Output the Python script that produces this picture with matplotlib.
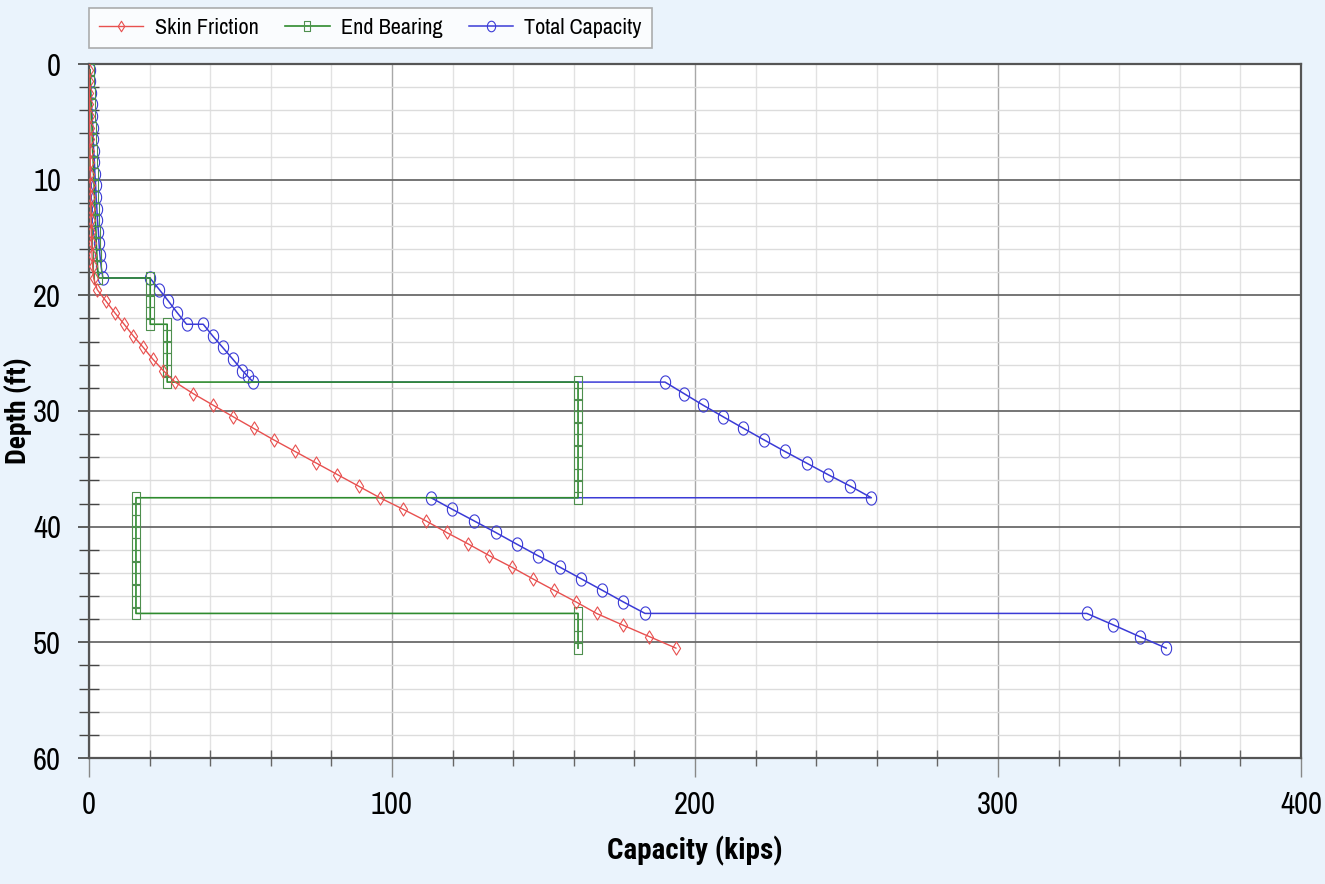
import numpy as np
import matplotlib
matplotlib.use("Agg")
import matplotlib.pyplot as plt
from matplotlib.path import Path
from matplotlib.ticker import MultipleLocator

# ---------------- data ----------------
skin_depth = [0.5, 1.5, 2.5, 3.5, 4.5, 5.5, 6.5, 7.5, 8.5, 9.5, 10.5, 11.5, 12.5, 13.5,
              14.5, 15.5, 16.5, 17.5, 18.5, 19.5, 20.5, 21.5, 22.5, 23.5, 24.5, 25.5,
              26.5, 27.5, 28.5, 29.5, 30.5, 31.5, 32.5, 33.5, 34.5, 35.5, 36.5, 37.5,
              38.5, 39.5, 40.5, 41.5, 42.5, 43.5, 44.5, 45.5, 46.5, 47.5, 48.5, 49.5, 50.5]
skin_cap = [0.0, 0.05, 0.1, 0.15, 0.2, 0.25, 0.3, 0.35, 0.4, 0.45, 0.5, 0.55, 0.6, 0.7,
            0.8, 0.9, 1.0, 1.2, 1.5, 2.7, 5.6, 8.5, 11.6, 14.6, 17.9, 21.0,
            24.5, 28.4, 34.4, 41.0, 47.6, 54.3, 61.0, 68.0, 75.0, 82.0, 89.0, 96.0,
            103.7, 111.2, 118.0, 125.2, 132.1, 139.5, 146.4, 153.5, 160.7, 167.5, 176.1, 184.9, 193.7]

end_depth = [0.5, 1.5, 2.5, 3.5, 4.5, 5.5, 6.5, 7.5, 8.5, 9.5, 10.5, 11.5, 12.5, 13.5,
             14.5, 15.5, 16.5, 17.5, 18.5,
             18.5, 19.5, 20.5, 21.5, 22.5,
             22.5, 23.5, 24.5, 25.5, 26.5, 27.5,
             27.5, 28.5, 29.5, 30.5, 31.5, 32.5, 33.5, 34.5, 35.5, 36.5, 37.5,
             37.5, 38.5, 39.5, 40.5, 41.5, 42.5, 43.5, 44.5, 45.5, 46.5, 47.5,
             47.5, 48.5, 49.5, 50.5]
end_cap = [0.3, 0.4, 0.5, 0.7, 0.8, 1.0, 1.1, 1.2, 1.4, 1.5, 1.7, 1.8, 2.0, 2.1,
           2.3, 2.4, 2.6, 2.8, 3.1,
           20.2, 20.2, 20.2, 20.2, 20.2,
           25.8, 25.8, 25.8, 25.8, 25.8, 25.8,
           161.4, 161.4, 161.4, 161.4, 161.4, 161.4, 161.4, 161.4, 161.4, 161.4, 161.4,
           15.5, 15.5, 15.5, 15.5, 15.5, 15.5, 15.5, 15.5, 15.5, 15.5, 15.5,
           161.4, 161.4, 161.4, 161.4]

total_depth = [0.5, 1.5, 2.5, 3.5, 4.5, 5.5, 6.5, 7.5, 8.5, 9.5, 10.5, 11.5, 12.5, 13.5,
               14.5, 15.5, 16.5, 17.5, 18.5,
               18.5, 19.5, 20.5, 21.5, 22.5,
               22.5, 23.5, 24.5, 25.5, 26.5, 27.0, 27.5,
               27.5, 28.5, 29.5, 30.5, 31.5, 32.5, 33.5, 34.5, 35.5, 36.5, 37.5,
               37.5, 38.5, 39.5, 40.5, 41.5, 42.5, 43.5, 44.5, 45.5, 46.5, 47.5,
               47.5, 48.5, 49.5, 50.5]
total_cap = [0.3, 0.45, 0.6, 0.85, 1.0, 1.25, 1.4, 1.55, 1.8, 1.95, 2.2, 2.35, 2.6, 2.8,
             3.1, 3.3, 3.6, 4.0, 4.6,
             20.1, 23.2, 26.2, 29.1, 32.2,
             37.7, 40.8, 44.1, 47.4, 50.6, 52.4, 54.2,
             190.1, 196.4, 202.7, 209.3, 216.0, 222.8, 229.7, 236.8, 243.9, 251.3, 258.2,
             112.9, 119.9, 127.1, 134.2, 141.1, 148.1, 155.4, 162.4, 169.4, 176.3, 183.5,
             329.3, 338.1, 346.7, 355.5]

x_ticks = [0, 100, 200, 300, 400]
y_ticks = [0, 10, 20, 30, 40, 50, 60]

# ---------------- style ----------------
narrow = ['Liberation Sans Narrow', 'Archivo Narrow', 'Roboto Condensed', 'DejaVu Sans']
bold_narrow = ['Liberation Sans Narrow', 'Roboto Condensed', 'Barlow Semi Condensed', 'DejaVu Sans']
plt.rcParams['font.family'] = narrow

BG = '#EAF3FC'
RED = '#E8504F'
GREEN = '#2E8B2E'
BLUE = '#3B3BD6'

# tall (vertically elongated) marker shapes
diamond = Path([(0, 1), (0.62, 0), (0, -1), (-0.62, 0), (0, 1)],
               [Path.MOVETO, Path.LINETO, Path.LINETO, Path.LINETO, Path.CLOSEPOLY])
sq = Path([(-0.6, -1), (0.6, -1), (0.6, 1), (-0.6, 1), (-0.6, -1)],
          [Path.MOVETO, Path.LINETO, Path.LINETO, Path.LINETO, Path.CLOSEPOLY])
t = np.linspace(0, 2 * np.pi, 40)
ell = Path(np.column_stack([0.78 * np.cos(t), np.sin(t)]))

fig = plt.figure(figsize=(13.25, 8.84), dpi=100, facecolor=BG)
ax = fig.add_axes([89 / 1325, 1 - 758 / 884, (1301 - 89) / 1325, (758 - 64) / 884])
ax.set_facecolor('white')

l3, = ax.plot(total_cap, total_depth, color=BLUE, lw=1.1, marker=ell, ms=9.5,
              mfc='none', mec=BLUE, mew=0.8, zorder=3, label='Total Capacity')
l2, = ax.plot(end_cap, end_depth, color=GREEN, lw=1.2, marker=sq, ms=9,
              mfc='none', mec='#4E8F4E', mew=0.8, zorder=4, label='End Bearing')
l1, = ax.plot(skin_cap, skin_depth, color=RED, lw=1.0, marker=diamond, ms=9.5,
              mfc='none', mec=RED, mew=0.8, zorder=5, label='Skin Friction')

ax.set_xlim(0, 400)
ax.set_ylim(60, 0)
ax.set_xticks(x_ticks)
ax.set_yticks(y_ticks)
ax.xaxis.set_minor_locator(MultipleLocator(20))
ax.yaxis.set_minor_locator(MultipleLocator(2))

ax.grid(which='major', axis='y', color='#6a6a6a', lw=1.3, zorder=1)
ax.grid(which='minor', axis='y', color='#dcdcdc', lw=1.0, zorder=0)
ax.grid(which='major', axis='x', color='#a8a8a8', lw=1.0, zorder=1)
ax.grid(which='minor', axis='x', color='#e2e2e2', lw=1.0, zorder=0)
ax.set_axisbelow(True)

for s in ax.spines.values():
    s.set_color('#555555')
    s.set_linewidth(1.6)

ax.tick_params(axis='y', which='major', direction='out', length=8, width=1.2,
               color='#444444', labelsize=22, pad=12)
ax.tick_params(axis='y', which='minor', direction='inout', length=14, width=1.0,
               color='#444444')
ax.tick_params(axis='x', which='major', direction='out', length=14, width=1.0,
               color='#888888', labelsize=22, pad=10)
ax.tick_params(axis='x', which='minor', direction='inout', length=12, width=1.0,
               color='#666666')

ax.set_xlabel('Capacity (kips)', fontsize=21, fontweight='bold', family=bold_narrow)
ax.xaxis.set_label_coords(0.5, -0.112)
ax.set_ylabel('Depth (ft)', fontsize=20, fontweight='bold', family=bold_narrow)
ax.yaxis.set_label_coords(-0.047, 0.5)

leg = fig.legend(handles=[l1, l2, l3], loc='upper left',
                 bbox_to_anchor=(89 / 1325, 1 - 8 / 884), ncol=3, borderaxespad=0,
                 fontsize=16, frameon=True, fancybox=False, edgecolor='#999999',
                 handlelength=2.0, handletextpad=0.5, columnspacing=1.2,
                 borderpad=0.45, markerscale=0.8)
leg.get_frame().set_linewidth(1.2)
leg.get_frame().set_facecolor('white')

fig.savefig('out.png', dpi=100, facecolor=BG)
